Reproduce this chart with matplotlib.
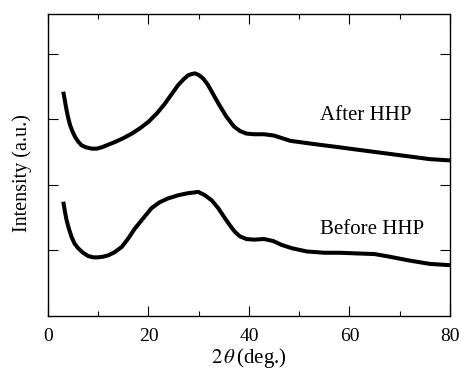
import matplotlib
matplotlib.use("Agg")
import matplotlib.pyplot as plt
from matplotlib.ticker import MultipleLocator

plt.rcParams['font.family'] = ['Liberation Serif', 'DejaVu Serif']
plt.rcParams['mathtext.fontset'] = 'stix'

# 2theta (deg.) and intensity (offset, a.u.)
after_x = [3.05, 3.4, 3.7, 4.0, 4.4, 4.9, 5.4, 6.0, 6.7, 7.6, 8.7, 9.7, 10.7, 12.0, 13.3, 15.0, 16.7,
           18.3, 20.0, 21.7, 23.3, 24.6, 25.9, 27.0, 27.9, 28.6, 29.3, 30.1, 30.9, 31.8, 32.6,
           34.0, 35.5, 37.0, 38.2, 39.5, 41.0, 43.0, 45.0, 48.2, 52.0, 55.0, 58.1, 61.0, 64.0,
           68.0, 72.0, 76.0, 80.0]
after_y = [3.42, 3.27, 3.14, 3.03, 2.91, 2.81, 2.73, 2.66, 2.60, 2.57, 2.55, 2.55, 2.57, 2.61, 2.65, 2.71, 2.78,
           2.86, 2.96, 3.09, 3.24, 3.38, 3.52, 3.61, 3.67, 3.69, 3.70, 3.67, 3.62, 3.53, 3.42,
           3.23, 3.04, 2.89, 2.82, 2.78, 2.77, 2.77, 2.75, 2.67, 2.63, 2.60, 2.57, 2.54, 2.51,
           2.47, 2.43, 2.39, 2.37]

before_x = [3.05, 3.4, 3.7, 4.2, 4.7, 5.3, 6.0, 7.0, 8.0, 9.0, 10.0, 11.0, 12.0, 13.3, 14.7, 16.0, 17.3,
            19.0, 20.6, 22.2, 23.9, 26.0, 27.9, 29.0, 29.9, 31.2, 32.6, 33.9, 35.2, 36.2, 37.2,
            38.2, 39.5, 41.0, 43.0, 44.8, 46.5, 48.5, 51.5, 55.0, 58.0, 61.4, 65.0, 68.0, 72.0,
            76.0, 80.0]
before_y = [1.74, 1.58, 1.46, 1.32, 1.20, 1.10, 1.03, 0.96, 0.91, 0.89, 0.89, 0.90, 0.92, 0.97, 1.05, 1.18, 1.33,
            1.49, 1.64, 1.73, 1.79, 1.84, 1.87, 1.88, 1.89, 1.84, 1.76, 1.64, 1.49, 1.38, 1.28,
            1.21, 1.17, 1.16, 1.17, 1.14, 1.08, 1.03, 0.98, 0.96, 0.96, 0.95, 0.94, 0.90, 0.84,
            0.79, 0.77]

fig = plt.figure(figsize=(4.61, 3.70), dpi=100)
ax = fig.add_axes([0.104, 0.147, 0.872, 0.814])

ax.plot(after_x, after_y, color='black', linewidth=2.9, solid_joinstyle='round', solid_capstyle='butt')
ax.plot(before_x, before_y, color='black', linewidth=2.9, solid_joinstyle='round', solid_capstyle='butt')

ax.text(54.1, 3.05, "After HHP", fontsize=15, va='center', ha='left')
ax.text(54.1, 1.32, "Before HHP", fontsize=15, va='center', ha='left')

ax.set_xlim(0, 80)
ax.set_ylim(0, 4.6)
ax.xaxis.set_major_locator(MultipleLocator(20))
ax.xaxis.set_minor_locator(MultipleLocator(10))
ax.set_yticks([1, 2, 3, 4])
ax.set_yticklabels([])
ax.tick_params(which='both', direction='in', top=True, right=True, width=0.8, labelsize=14)
ax.tick_params(axis='x', which='major', length=7, pad=9)
ax.tick_params(axis='y', which='major', length=7)
ax.tick_params(which='minor', length=3.5)
for spine in ax.spines.values():
    spine.set_linewidth(1.0)

ax.set_xlabel(r'$2\,\theta\,$(deg.)', fontsize=15, labelpad=1)
ax.set_ylabel("Intensity (a.u.)", fontsize=14.5)
ax.yaxis.set_label_coords(-0.040, 0.473)

fig.savefig("out.png", dpi=100)
